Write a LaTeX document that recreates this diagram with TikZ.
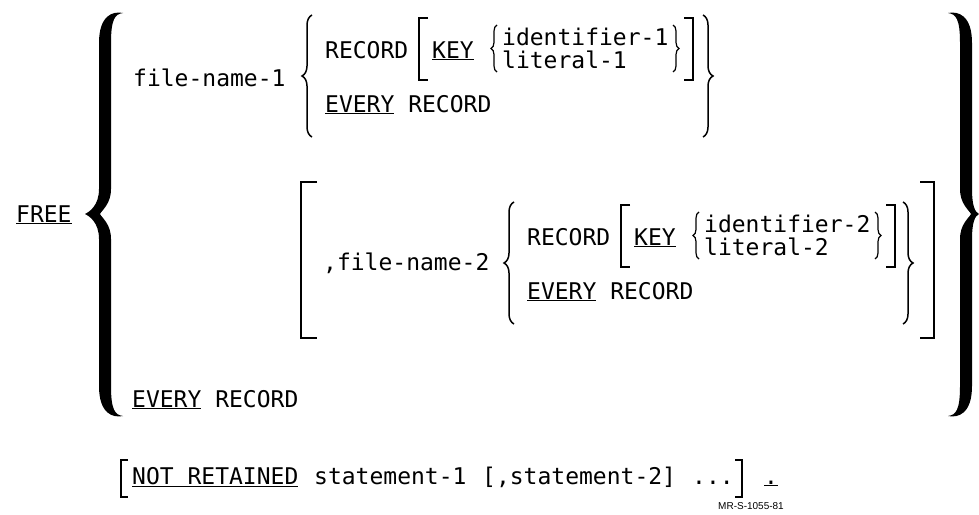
\documentclass[tikz,border=0pt]{standalone}
\usepackage{fontspec}
\setmonofont{DejaVu Sans Mono}
\newfontfamily\tagfont{Liberation Sans}
\usetikzlibrary{decorations.pathreplacing}

\tikzset{
  syn/.style={font=\ttfamily\fontsize{23}{28}\selectfont, anchor=base west, inner sep=0pt},
  tag/.style={font=\tagfont\fontsize{10}{12}\selectfont, anchor=base west, inner sep=0pt},
  grpbrace/.style={decorate, decoration={brace, amplitude=#1}, line width=1.5pt},
  litbrace/.style={decorate, decoration={brace, amplitude=#1}, line width=1.2pt},
  sqbr/.style={line width=1.3pt},
}
\newcommand{\kw}[1]{\underline{#1}}
% tapered outer brace: centre x, direction, top, tip, bottom, half width, tip reach
\newcommand{\outerbrace}[7]{%
  \begin{scope}[shift={(#1,0)}, xscale=#2]
    \fill (-18,#3) .. controls (-8,{#3-2}) and (#6,{#3+2}) .. (#6,{#3+30})
      -- (#6,{#4-25}) .. controls (#6,{#4-8}) and ({#7-4},{#4-2}) .. (#7,#4)
      .. controls ({#7-4},{#4+2}) and (#6,{#4+8}) .. (#6,{#4+25})
      -- (#6,{#5-30}) .. controls (#6,{#5-2}) and (-8,{#5+2}) .. (-18,#5)
      .. controls (-10,{#5-1}) and (-#6,{#5-6}) .. (-#6,{#5-30})
      -- (-#6,{#4+25}) .. controls (-#6,{#4+10}) and ({#6-3},{#4+4}) .. ({#6-1},#4)
      .. controls ({#6-3},{#4-4}) and (-#6,{#4-10}) .. (-#6,{#4-25})
      -- (-#6,{#3+30}) .. controls (-#6,{#3+6}) and (-10,{#3+1}) .. (-18,#3) -- cycle;
  \end{scope}}

\begin{document}
\begin{tikzpicture}[x=1pt, y=-1pt]
  \useasboundingbox (0,0) rectangle (979,514);

  % verb and outer braces
  \node[syn] (free) at (16,222) {\kw{FREE}};
  \outerbrace{105}{-1}{13}{214}{416}{6}{20}
  \outerbrace{966}{1}{13}{214}{416}{6}{13}

  % first file
  \node[syn] (fn1) at (133,86) {file-name-1};
  \draw[grpbrace=10pt] (312,137) -- (312,15);
  \node[syn] (rec1) at (325,58) {RECORD};
  \draw[sqbr] (428,18) -- (419,18) -- (419,80) -- (428,80);
  \node[syn] (key1) at (432,58) {\kw{KEY}};
  \draw[litbrace=6pt] (497,72) -- (497,25);
  \node[syn] (id1) at (502,45) {identifier-1};
  \node[syn] (lit1) at (502,68) {literal-1};
  \draw[litbrace=6pt] (673,25) -- (673,72);
  \draw[sqbr] (684,18) -- (693,18) -- (693,80) -- (684,80);
  \draw[grpbrace=10pt] (703,15) -- (703,137);
  \node[syn] (every1) at (325,112) {\kw{EVERY} RECORD};

  % optional second file
  \draw[sqbr] (317,182) -- (301,182) -- (301,338) -- (317,338);
  \node[syn] (fn2) at (323,270) {,file-name-2};
  \draw[grpbrace=10pt] (514,324) -- (514,202);
  \node[syn] (rec2) at (527,245) {RECORD};
  \draw[sqbr] (630,205) -- (621,205) -- (621,267) -- (630,267);
  \node[syn] (key2) at (634,245) {\kw{KEY}};
  \draw[litbrace=6pt] (699,259) -- (699,212);
  \node[syn] (id2) at (704,232) {identifier-2};
  \node[syn] (lit2) at (704,255) {literal-2};
  \draw[litbrace=6pt] (875,212) -- (875,259);
  \draw[sqbr] (886,205) -- (895,205) -- (895,267) -- (886,267);
  \draw[grpbrace=10pt] (903,202) -- (903,324);
  \draw[sqbr] (920,182) -- (934,182) -- (934,338) -- (920,338);
  \node[syn] (every2) at (527,299) {\kw{EVERY} RECORD};

  % every record alone
  \node[syn] (every3) at (132,407) {\kw{EVERY} RECORD};

  % retained clause
  \draw[sqbr] (128,460) -- (121,460) -- (121,497) -- (128,497);
  \node[syn] (notret) at (132,484) {\kw{NOT RETAINED}};
  \node[syn] (st1) at (314,484) {statement-1};
  \node[syn] (st2) at (482,484) {[,statement-2]};
  \node[syn] (dots) at (692,484) {...};
  \draw[sqbr] (735,460) -- (742,460) -- (742,497) -- (735,497);
  \node[syn] (stop) at (764,484) {\kw{.}};
  \node[tag] (tag) at (718,509) {MR-S-1055-81};
\end{tikzpicture}
\end{document}
